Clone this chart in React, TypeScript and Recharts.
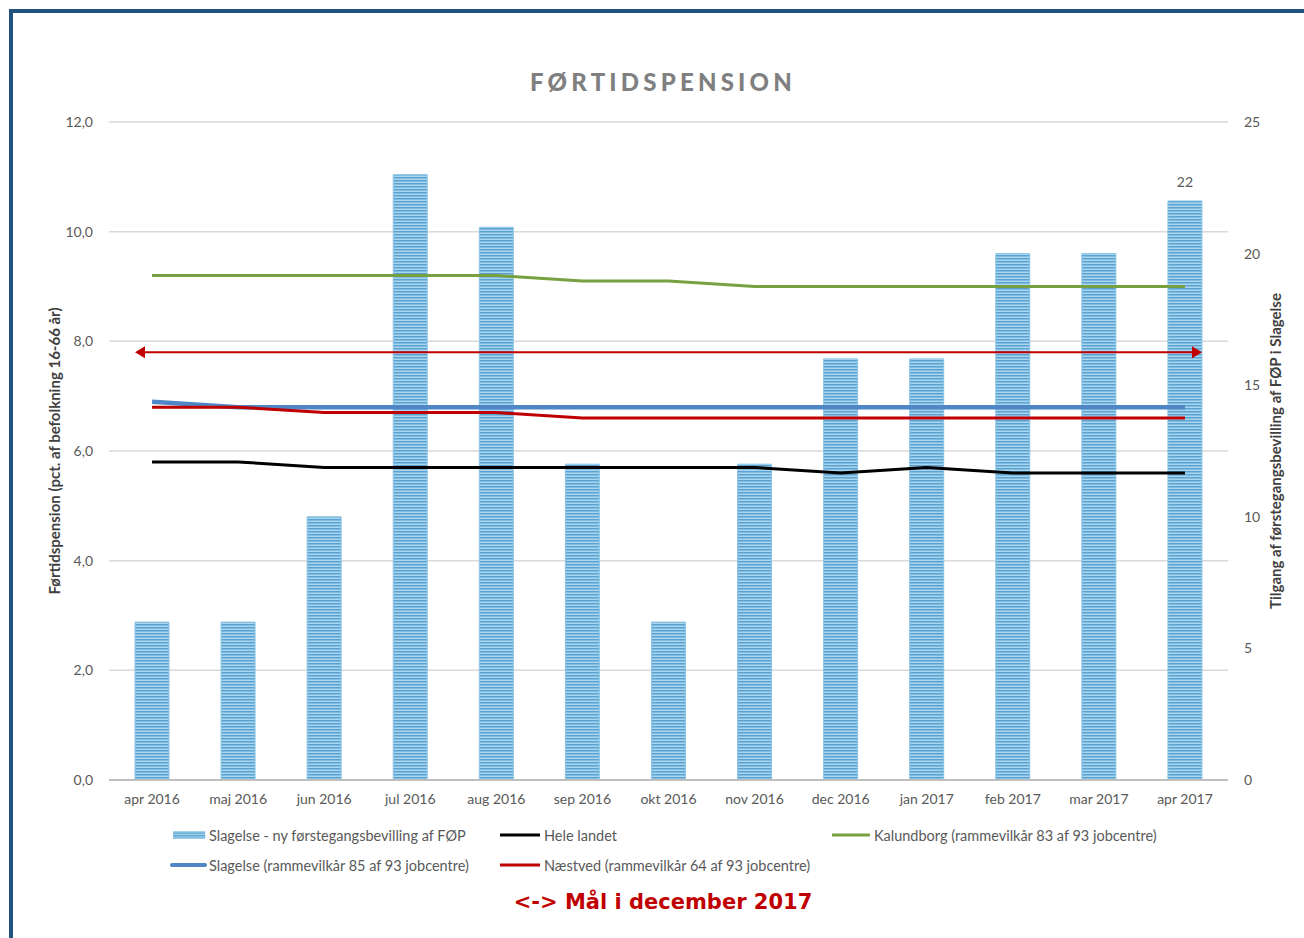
import React from 'react';
import {
  ComposedChart,
  Bar,
  Line,
  XAxis,
  YAxis,
  CartesianGrid,
  ReferenceLine,
  LabelList,
} from 'recharts';

const months = [
  'apr 2016', 'maj 2016', 'jun 2016', 'jul 2016', 'aug 2016', 'sep 2016', 'okt 2016',
  'nov 2016', 'dec 2016', 'jan 2017', 'feb 2017', 'mar 2017', 'apr 2017',
];
// Slagelse - ny førstegangsbevilling af FØP (right axis)
const newGrants = [6, 6, 10, 23, 21, 12, 6, 12, 16, 16, 20, 20, 22];
const barLabels = ['', '', '', '', '', '', '', '', '', '', '', '', '22'];
// left axis, pct. of population 16-66
const heleLandet = [5.8, 5.8, 5.7, 5.7, 5.7, 5.7, 5.7, 5.7, 5.6, 5.7, 5.6, 5.6, 5.6];
const kalundborg = [9.2, 9.2, 9.2, 9.2, 9.2, 9.1, 9.1, 9.0, 9.0, 9.0, 9.0, 9.0, 9.0];
const slagelse = [6.9, 6.8, 6.8, 6.8, 6.8, 6.8, 6.8, 6.8, 6.8, 6.8, 6.8, 6.8, 6.8];
const naestved = [6.8, 6.8, 6.7, 6.7, 6.7, 6.6, 6.6, 6.6, 6.6, 6.6, 6.6, 6.6, 6.6];
const target = 7.8;

const leftTicks = [0, 2, 4, 6, 8, 10, 12];
const rightTicks = [0, 5, 10, 15, 20, 25];

const rows = months.map((m, i) => ({
  month: m,
  grants: newGrants[i],
  lbl: barLabels[i],
  hele: heleLandet[i],
  kal: kalundborg[i],
  sla: slagelse[i],
  nae: naestved[i],
}));

const GRAY = '#595959';
const RED = '#c00000';
const font = 'Lato, "Open Sans", sans-serif';

const TargetArrow = (props: any) => {
  const { x1, x2, y1 } = props;
  const a = x1 + 26;
  const b = x2 - 26;
  return (
    <g>
      <line x1={a + 6} x2={b - 6} y1={y1} y2={y1} stroke={RED} strokeWidth={2} />
      <polygon points={`${a},${y1} ${a + 10},${y1 - 6} ${a + 10},${y1 + 6}`} fill={RED} />
      <polygon points={`${b},${y1} ${b - 10},${y1 - 6} ${b - 10},${y1 + 6}`} fill={RED} />
    </g>
  );
};

const AxisTitle = ({ viewBox, value, shift }: any) => {
  const cx = viewBox.x + viewBox.width / 2 + shift;
  const cy = viewBox.y + viewBox.height / 2;
  return (
    <text
      x={cx}
      y={cy}
      transform={`rotate(-90, ${cx}, ${cy})`}
      textAnchor="middle"
      dominantBaseline="central"
      fontFamily={font}
      fontWeight={700}
      fontSize={15}
      fill="#404040"
    >
      {value}
    </text>
  );
};

const legendItems = [
  { label: 'Slagelse - ny førstegangsbevilling af FØP', kind: 'bar', color: '#5aa2d2', left: 173, top: 835, w: 32 },
  { label: 'Hele landet', kind: 'line', color: '#000000', left: 500, top: 835, w: 40 },
  { label: 'Kalundborg (rammevilkår 83 af 93 jobcentre)', kind: 'line', color: '#77a040', left: 832, top: 835, w: 38 },
  { label: 'Slagelse (rammevilkår 85 af 93 jobcentre)', kind: 'thick', color: '#4f86c6', left: 170, top: 865, w: 35 },
  { label: 'Næstved (rammevilkår 64 af 93 jobcentre)', kind: 'line', color: RED, left: 500, top: 865, w: 40 },
];

const LegendIcon = ({ kind, color, w }: any) => (
  <svg width={w + 2} height={10} style={{ display: 'block' }}>
    {kind === 'bar' ? (
      <rect x={0} y={1.5} width={w} height={7} fill="url(#stripesLegend)" stroke="#8cc4e4" strokeWidth={0.5} />
    ) : (
      <line
        x1={kind === 'thick' ? 2 : 0}
        x2={w}
        y1={5}
        y2={5}
        stroke={color}
        strokeWidth={kind === 'thick' ? 4 : 3}
        strokeLinecap={kind === 'thick' ? 'round' : 'butt'}
      />
    )}
  </svg>
);

export default function App() {
  return (
    <div
      style={{
        position: 'absolute',
        left: 0,
        top: 0,
        width: 1304,
        height: 938,
        overflow: 'hidden',
        background: '#fff',
        fontFamily: font,
      }}
    >
      <svg width={0} height={0} style={{ position: 'absolute' }}>
        <defs>
          <pattern id="stripesLegend" width={4} height={2.5} patternUnits="userSpaceOnUse">
            <rect width={4} height={2.5} fill="#a9d6ee" />
            <rect width={4} height={1.3} fill="#5aa2d2" />
          </pattern>
        </defs>
      </svg>
      <div
        style={{
          position: 'absolute',
          left: 9,
          top: 9,
          width: 1400,
          height: 1000,
          borderTop: '4px solid #24527f',
          borderLeft: '4px solid #24527f',
        }}
      />
      <div
        style={{
          position: 'absolute',
          left: 0,
          width: 1326,
          top: 67,
          textAlign: 'center',
          fontSize: 24,
          fontWeight: 900,
          letterSpacing: 4.2,
          color: '#7f7f7f',
          lineHeight: '30px',
        }}
      >
        FØRTIDSPENSION
      </div>
      <div style={{ position: 'absolute', left: 0, top: 0 }}>
        <ComposedChart
          width={1304}
          height={830}
          data={rows}
          margin={{ top: 122, right: 0, bottom: 0, left: 0 }}
          barCategoryGap={0}
        >
          <defs>
            <pattern id="stripes" width={4} height={3} patternUnits="userSpaceOnUse">
              <rect width={4} height={3} fill="#a9d6ee" />
              <rect width={4} height={1.5} fill="#5aa2d2" />
            </pattern>
          </defs>
          <CartesianGrid yAxisId="left" vertical={false} stroke="#d9d9d9" strokeWidth={1.5} />
          <XAxis
            dataKey="month"
            height={50}
            tickLine={false}
            tickSize={0}
            tickMargin={14}
            axisLine={{ stroke: '#bfbfbf', strokeWidth: 2 }}
            tick={{ fill: GRAY, fontSize: 14, fontFamily: font }}
            interval={0}
          />
          <YAxis
            yAxisId="left"
            width={109}
            domain={[0, 12]}
            ticks={leftTicks}
            tickFormatter={(v: number) => v.toFixed(1).replace('.', ',')}
            axisLine={false}
            tickLine={false}
            tickSize={0}
            tickMargin={16}
            tick={{ fill: GRAY, fontSize: 14, fontFamily: font }}
            label={{
              value: 'Førtidspension (pct. af befolkning 16-66 år)',
              content: (p: any) => <AxisTitle {...p} value="Førtidspension (pct. af befolkning 16-66 år)" shift={-1} />,
            }}
          />
          <YAxis
            yAxisId="right"
            orientation="right"
            width={76}
            domain={[0, 25]}
            ticks={rightTicks}
            axisLine={false}
            tickLine={false}
            tickSize={0}
            tickMargin={16}
            tick={{ fill: GRAY, fontSize: 14, fontFamily: font }}
            label={{
              value: 'Tilgang af førstegangsbevilling af FØP i Slagelse',
              content: (p: any) => (
                <AxisTitle {...p} value="Tilgang af førstegangsbevilling af FØP i Slagelse" shift={9} />
              ),
            }}
          />
          <Bar
            yAxisId="right"
            dataKey="grants"
            barSize={34}
            fill="url(#stripes)"
            stroke="#8cc4e4"
            strokeWidth={1}
            isAnimationActive={false}
          >
            <LabelList dataKey="lbl" position="top" offset={14} fill={GRAY} fontSize={14} fontFamily={font} />
          </Bar>
          <Line yAxisId="left" dataKey="kal" stroke="#77a040" strokeWidth={3} dot={false} type="linear" isAnimationActive={false} />
          <Line yAxisId="left" dataKey="hele" stroke="#000000" strokeWidth={3} dot={false} type="linear" isAnimationActive={false} />
          <Line yAxisId="left" dataKey="sla" stroke="#4f86c6" strokeWidth={4.5} dot={false} type="linear" isAnimationActive={false} />
          <Line yAxisId="left" dataKey="nae" stroke={RED} strokeWidth={3} dot={false} type="linear" isAnimationActive={false} />
          <ReferenceLine yAxisId="left" y={target} stroke={RED} shape={(p: any) => <TargetArrow {...p} />} />
        </ComposedChart>
      </div>
      {legendItems.map((it) => (
        <div
          key={it.label}
          style={{
            position: 'absolute',
            left: it.left,
            top: it.top - 10,
            height: 20,
            display: 'flex',
            alignItems: 'center',
            fontSize: 14.5,
            color: GRAY,
            whiteSpace: 'nowrap',
          }}
        >
          <LegendIcon kind={it.kind} color={it.color} w={it.w} />
          <span style={{ marginLeft: 2 }}>{it.label}</span>
        </div>
      ))}
      <div
        style={{
          position: 'absolute',
          left: 0,
          width: 1326,
          top: 888,
          textAlign: 'center',
          fontFamily: '"DejaVu Sans", Verdana, sans-serif',
          fontWeight: 700,
          fontSize: 21,
          color: RED,
          lineHeight: '28px',
        }}
      >
        {'<-> Mål i december 2017'}
      </div>
    </div>
  );
}
